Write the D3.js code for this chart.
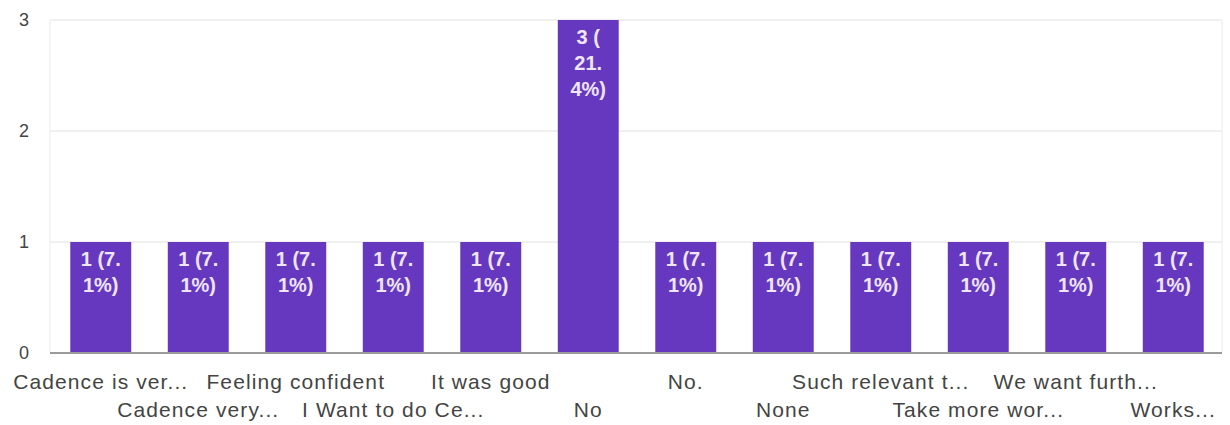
<!DOCTYPE html>
<html><head><meta charset="utf-8">
<script src="https://cdn.jsdelivr.net/npm/d3@7"></script>
<style>body{margin:0;background:#fff}svg{display:block;font-family:"Liberation Sans",Arial,sans-serif}</style>
</head><body><svg id="c" width="1230" height="425"></svg>
<script>
const categories = ["Cadence is ver...","Cadence very...","Feeling confident","I Want to do Ce...","It was good","No","No.","None","Such relevant t...","Take more wor...","We want furth...","Works..."];
const counts = [1,1,1,1,1,3,1,1,1,1,1,1];
const labelLines = [["1 (7.","1%)"],["1 (7.","1%)"],["1 (7.","1%)"],["1 (7.","1%)"],["1 (7.","1%)"],["3 (","21.","4%)"],["1 (7.","1%)"],["1 (7.","1%)"],["1 (7.","1%)"],["1 (7.","1%)"],["1 (7.","1%)"],["1 (7.","1%)"]];
const yTicks = [0,1,2,3];

const svg = d3.select("#c");
const x = d3.scaleBand().domain(categories).range([52,1222]).paddingInner(0.375).paddingOuter(0.1875);
const y = d3.scaleLinear().domain([0,3]).range([353,20]);

// gridlines
svg.append("g").selectAll("line").data(yTicks.filter(d=>d>0)).join("line")
  .attr("x1",50).attr("x2",1222).attr("y1",d=>y(d)).attr("y2",d=>y(d))
  .attr("stroke","#ebebeb").attr("stroke-width",1.5);
svg.append("line").attr("x1",50).attr("x2",50).attr("y1",20).attr("y2",353).attr("stroke","#f2f2f2").attr("stroke-width",1.5);
svg.append("line").attr("x1",1222).attr("x2",1222).attr("y1",20).attr("y2",353).attr("stroke","#f2f2f2").attr("stroke-width",1.5);

// y labels
svg.append("g").selectAll("text").data(yTicks).join("text")
  .attr("x",29).attr("y",d=>y(d)+6).attr("text-anchor","end")
  .attr("font-size",18).attr("fill","#444").text(d=>d);

// bars
svg.append("g").selectAll("rect").data(categories).join("rect")
  .attr("x",d=>x(d)).attr("width",x.bandwidth())
  .attr("y",(d,i)=>y(counts[i])).attr("height",(d,i)=>y(0)-y(counts[i]))
  .attr("fill","#6638c0");

// bar labels
const lg = svg.append("g");
categories.forEach((c,i)=>{
  labelLines[i].forEach((t,j)=>{
    lg.append("text").attr("x",x(c)+x.bandwidth()/2).attr("y",y(counts[i])+24+j*26)
      .attr("text-anchor","middle").attr("font-size",20).attr("font-weight","bold")
      .attr("fill","#efe6fb").text(t);
  });
});

// baseline
svg.append("line").attr("x1",50).attr("x2",1222).attr("y1",y(0)).attr("y2",y(0)).attr("stroke","#9a9a9a").attr("stroke-width",2);

// x labels
svg.append("g").selectAll("text").data(categories).join("text")
  .attr("x",d=>x(d)+x.bandwidth()/2).attr("y",(d,i)=>i%2===0?389:417)
  .attr("text-anchor","middle").attr("font-size",21).attr("letter-spacing",1.1)
  .attr("fill","#444").text(d=>d);
</script></body></html>
